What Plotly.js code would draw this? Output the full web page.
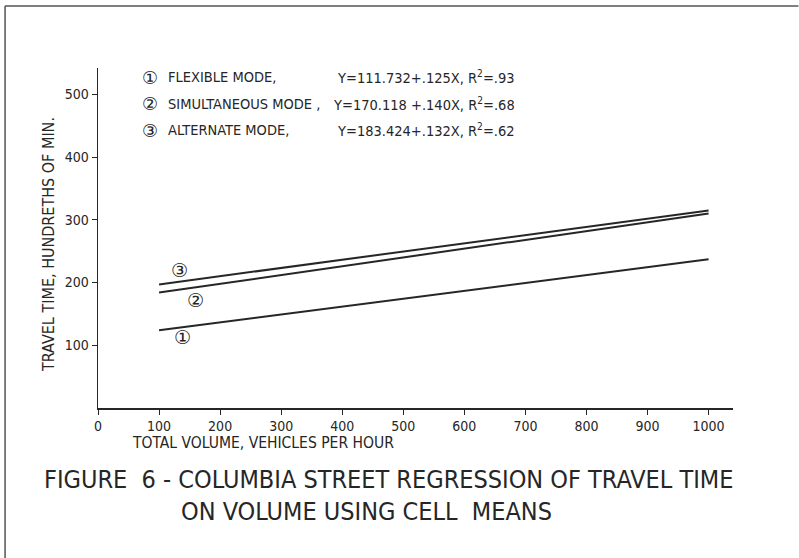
<!DOCTYPE html>
<html><head><meta charset="utf-8">
<script src="https://cdn.plot.ly/plotly-3.0.1.min.js"></script>
<style>html,body{margin:0;padding:0;background:#fff}#chart{width:799px;height:558px}</style>
</head><body><div id="chart"></div>
<script>
// Data (line endpoints, travel time in hundredths of min.)
const volume = [100, 1000];
const flexible = [124, 237];
const simultaneous = [184, 310];
const alternate = [197, 315];
const seriesNames = ["Flexible mode", "Simultaneous mode", "Alternate mode"];
const xTicks = [0, 100, 200, 300, 400, 500, 600, 700, 800, 900, 1000];
const yTicks = [100, 200, 300, 400, 500];
const legendLabels = ["FLEXIBLE MODE,", "SIMULTANEOUS MODE ,", "ALTERNATE MODE,"];
const legendEqs = ["Y=111.732+.125X, R<sup>2</sup>=.93", "Y=170.118 +.140X, R<sup>2</sup>=.68", "Y=183.424+.132X, R<sup>2</sup>=.62"];
const circled = ["\u2460", "\u2461", "\u2462"];
// label positions near lines (data coords)
const tagX = [139, 159, 134];
const tagY = [113, 172, 220];

const ink = "#262626";
const fontFam = "'DejaVu Sans Condensed', 'Liberation Sans Narrow', 'DejaVu Sans', sans-serif";

const traces = [flexible, simultaneous, alternate].map((ys, i) => ({
  x: volume, y: ys, mode: "lines", type: "scatter", name: seriesNames[i],
  line: {color: ink, width: 2}, hoverinfo: "x+y", showlegend: false
}));

const W = 799, H = 558, L = 98, R = 65.5, T = 68, B = 150;
const pw = W - L - R, ph = H - T - B;
const toPX = (x) => (x - L) / pw;
const toPY = (y) => (H - B - y) / ph;

const ann = [];
for (let i = 0; i < 3; i++) {
  ann.push({xref: "x", yref: "y", x: tagX[i], y: tagY[i], text: circled[i], showarrow: false,
    font: {family: "DejaVu Sans", size: 19, color: ink}});
}
const rowY = [77, 104, 130];
for (let i = 0; i < 3; i++) {
  ann.push({xref: "paper", yref: "paper", x: toPX(150), y: toPY(rowY[i]), xanchor: "center", yanchor: "middle",
    text: circled[i], showarrow: false, font: {family: "DejaVu Sans", size: 18, color: ink}});
  ann.push({xref: "paper", yref: "paper", x: toPX(166), y: toPY(rowY[i]), xanchor: "left", yanchor: "middle",
    text: legendLabels[i], showarrow: false, font: {family: fontFam, size: 14.5, color: ink}});
  ann.push({xref: "paper", yref: "paper", x: toPX(517), y: toPY(rowY[i]), xanchor: "right", yanchor: "middle",
    text: legendEqs[i], showarrow: false, font: {family: fontFam, size: 14.5, color: ink}});
}
// axis titles
ann.push({xref: "paper", yref: "paper", x: toPX(49), y: toPY(245), xanchor: "center", yanchor: "middle",
  text: "TRAVEL TIME, HUNDRETHS OF MIN.", textangle: -90, showarrow: false, font: {family: fontFam, size: 16, color: ink}});
ann.push({xref: "paper", yref: "paper", x: toPX(130), y: toPY(443), xanchor: "left", yanchor: "middle",
  text: "TOTAL VOLUME, VEHICLES PER HOUR", showarrow: false, font: {family: fontFam, size: 15.5, color: ink}});
// figure caption
ann.push({xref: "paper", yref: "paper", x: toPX(389), y: toPY(479), xanchor: "center", yanchor: "middle",
  text: "FIGURE  6 - COLUMBIA STREET REGRESSION OF TRAVEL TIME", showarrow: false, font: {family: fontFam, size: 25, color: ink}});
ann.push({xref: "paper", yref: "paper", x: toPX(367), y: toPY(511), xanchor: "center", yanchor: "middle",
  text: "ON VOLUME USING CELL  MEANS", showarrow: false, font: {family: fontFam, size: 25, color: ink}});

const layout = {
  width: W, height: H,
  margin: {l: L, r: R, t: T, b: B, pad: 0},
  paper_bgcolor: "#ffffff", plot_bgcolor: "#ffffff",
  font: {family: fontFam, color: ink, size: 14},
  xaxis: {range: [0, 1040], tickvals: xTicks, ticktext: xTicks.map(String), showgrid: false, zeroline: false,
    showline: true, linecolor: ink, linewidth: 1.5, ticks: "outside", ticklen: 5, tickcolor: ink,
    tickfont: {family: fontFam, size: 14, color: ink}, fixedrange: true},
  yaxis: {range: [0, 542], tickvals: yTicks, ticktext: yTicks.map(String), showgrid: false, zeroline: false,
    showline: true, linecolor: ink, linewidth: 1.5, ticks: "outside", ticklen: 5, tickcolor: ink,
    tickfont: {family: fontFam, size: 14, color: ink}, fixedrange: true},
  annotations: ann,
  shapes: [
    {type: "line", xref: "paper", yref: "paper", x0: toPX(5), x1: toPX(799), y0: toPY(6), y1: toPY(6), line: {color: "#555", width: 1.5}},
    {type: "line", xref: "paper", yref: "paper", x0: toPX(5), x1: toPX(5), y0: toPY(6), y1: toPY(558), line: {color: "#555", width: 1.5}}
  ],
  showlegend: false
};
Plotly.newPlot("chart", traces, layout, {displayModeBar: false, staticPlot: true});
</script></body></html>
